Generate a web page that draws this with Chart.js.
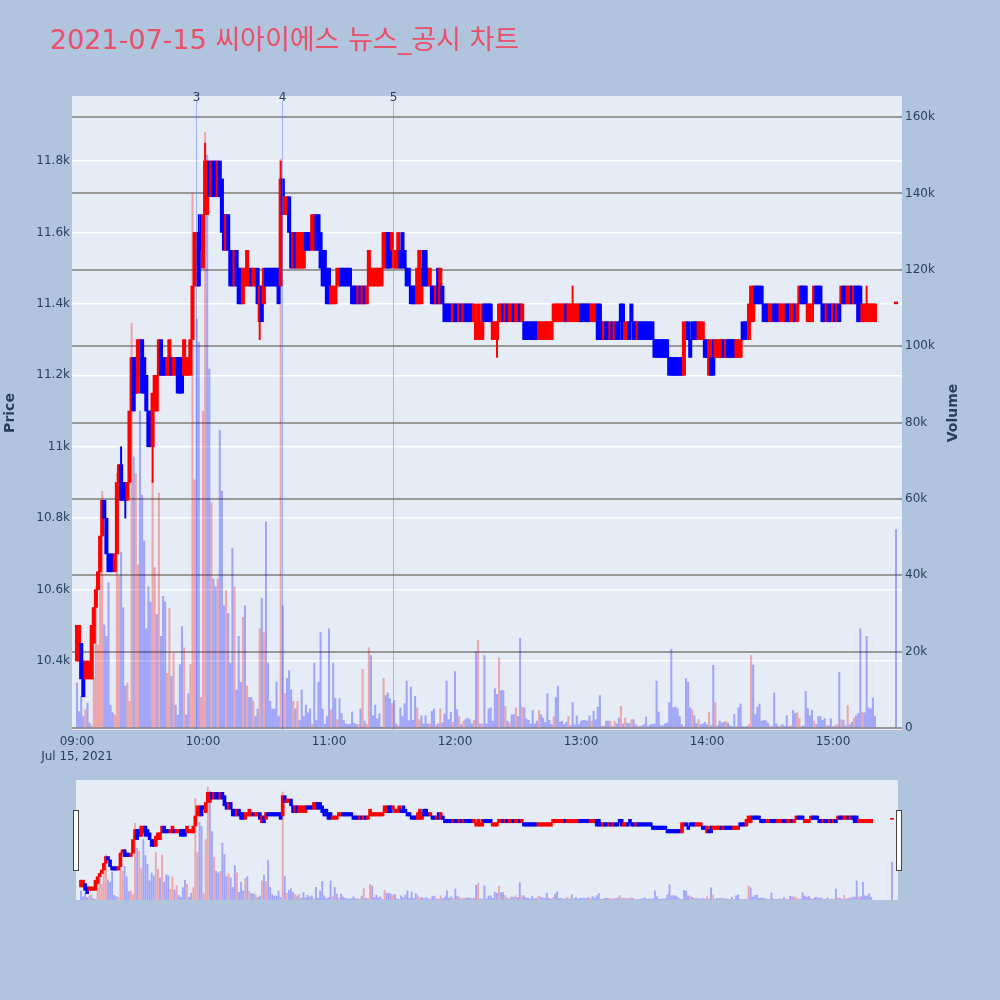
<!DOCTYPE html>
<html><head><meta charset="utf-8">
<script src="https://cdn.jsdelivr.net/npm/chart.js@4.4.0/dist/chart.umd.min.js"></script>
<style>
html,body{margin:0;padding:0;background:#b0c4de;width:1000px;height:1000px;overflow:hidden}
#title{position:absolute;left:50px;top:24px;line-height:32px;font-size:27px;font-family:"DejaVu Sans","Noto Sans CJK KR",sans-serif;color:#e9506a;white-space:nowrap}
#main{position:absolute;left:0;top:0}
#slider{position:absolute;left:76px;top:780px}
.handle{position:absolute;top:810px;width:4px;height:59px;background:#fff;border:1px solid #444}
</style></head><body>
<div id="title">2021-07-15 씨아이에스 뉴스_공시 차트</div>
<canvas id="main" width="1000" height="775"></canvas>
<canvas id="slider" width="822" height="120"></canvas>
<div class="handle" style="left:73px"></div>
<div class="handle" style="left:896px"></div>
<script>
// ---- data (one entry per minute from 09:00; null = no trade) ----
const sessionStart = '09:00';
const opens = [
10400,10400,10450,10400,10350,10350,10350,10350,10450,10550,
10600,10650,10750,10850,10800,10700,10700,10700,10650,10700,
10900,10950,10900,10900,10850,10900,11100,11250,11250,11150,
11200,11300,11250,11200,11100,11100,11000,11100,11100,11200,
11300,11250,11250,11200,11200,11250,11200,11200,11250,11250,
11250,11200,11200,11200,11200,11300,11450,11450,11600,11600,
11500,11650,11650,11800,11700,11800,11800,11700,11800,11750,
11650,11550,11650,11550,11550,11450,11550,11500,11500,11400,
11450,11450,11450,11500,11450,11450,11500,11350,11450,11400,
11500,11500,11500,11500,11500,11500,11500,11450,11750,11650,
11650,11700,11600,11500,11600,11500,11500,11500,11500,11600,
11600,11600,11550,11550,11650,11650,11600,11550,11550,11500,
11500,11400,11400,11400,11450,11450,11500,11500,11500,11500,
11500,11450,11450,11450,11400,11450,11400,11450,11400,11450,
11450,11450,11450,11450,11450,11450,11500,11500,11600,11600,
11550,11500,11500,11500,11550,11600,11550,11500,11500,11450,
11450,11450,11400,11400,11400,11550,11550,11500,11450,11450,
11450,11400,11500,11400,11450,11400,11400,11400,11400,11350,
11400,11400,11350,11400,11350,11400,11400,11400,11400,11350,
11300,11300,11300,11300,11400,11400,11400,11400,11300,11300,
11300,11350,11350,11400,11350,11400,11350,11350,11400,11350,
11350,11400,11350,11350,11350,11350,11350,11350,11350,11350,
11300,11300,11300,11300,11300,11300,11300,11350,11350,11350,
11350,11350,11350,11400,11350,11350,11350,11350,11350,11350,
11400,11400,11400,11400,11400,11350,11350,11350,11400,11400,
11350,11300,11350,11350,11300,11350,11300,11350,11350,11400,
11400,11300,11300,11350,11400,11350,11350,11300,11350,11350,
11350,11350,11350,11350,11350,11300,11300,11300,11300,11300,
11300,11300,11250,11250,11250,11250,11250,11250,11250,11200,
11300,11350,11300,11350,11350,11350,11300,11300,11300,11300,
11300,11200,11250,11300,11250,11250,11250,11250,11300,11250,
11300,11300,11300,11300,11250,11250,11250,11350,11350,11350,
11300,11350,11350,11450,11450,11450,11450,11400,11400,11400,
11350,11350,11400,11400,11400,11350,11350,11350,11400,11400,
11350,11350,11400,11350,11400,11450,11450,11450,11350,11350,
11350,11400,11450,11450,11450,11400,11400,11350,11400,11400,
11350,11400,11350,11400,11400,11450,11450,11400,11400,11450,
11400,11450,11450,11450,11350,11350,11350,11350,11350,11350,
11350,null,null,null,null,null,null,null,null,null,
11400];
const closes = [
10500,10500,10350,10300,10400,10400,10400,10500,10550,10600,
10650,10750,10850,10800,10700,10650,10650,10650,10700,10900,
10950,10850,10850,10850,10900,11100,11250,11100,11150,11300,
11300,11150,11150,11100,11000,11000,11150,11200,11200,11300,
11200,11200,11200,11250,11300,11200,11250,11250,11150,11150,
11150,11300,11250,11250,11300,11450,11600,11600,11450,11550,
11650,11800,11800,11700,11800,11700,11700,11800,11700,11600,
11550,11650,11550,11450,11450,11550,11450,11400,11400,11500,
11500,11550,11500,11450,11500,11500,11400,11450,11350,11500,
11450,11450,11450,11450,11450,11450,11400,11750,11650,11700,
11700,11600,11500,11600,11500,11600,11600,11600,11600,11550,
11550,11550,11650,11650,11550,11550,11500,11450,11450,11400,
11400,11450,11450,11450,11500,11500,11450,11450,11450,11450,
11450,11400,11400,11400,11450,11400,11450,11400,11450,11550,
11500,11500,11500,11500,11500,11500,11600,11600,11500,11500,
11600,11550,11550,11600,11500,11500,11500,11450,11450,11400,
11400,11400,11500,11550,11500,11450,11450,11450,11500,11400,
11400,11450,11400,11500,11400,11350,11350,11350,11350,11400,
11350,11350,11400,11350,11400,11350,11350,11350,11350,11400,
11350,11400,11350,11400,11350,11350,11350,11350,11350,11350,
11350,11400,11400,11350,11400,11350,11400,11400,11350,11400,
11400,11350,11400,11300,11300,11300,11300,11300,11300,11300,
11350,11350,11350,11350,11350,11350,11350,11400,11400,11400,
11400,11400,11400,11350,11400,11400,11400,11400,11400,11400,
11350,11350,11350,11350,11350,11400,11400,11400,11300,11300,
11300,11350,11300,11300,11350,11300,11350,11300,11300,11350,
11300,11350,11350,11300,11350,11300,11300,11350,11300,11300,
11300,11300,11300,11300,11300,11250,11250,11250,11250,11250,
11250,11250,11200,11200,11200,11200,11200,11200,11200,11350,
11350,11300,11250,11300,11300,11300,11350,11350,11350,11250,
11250,11300,11200,11200,11300,11300,11300,11300,11250,11300,
11250,11250,11250,11250,11300,11300,11300,11300,11300,11300,
11400,11450,11450,11400,11400,11400,11400,11350,11350,11350,
11400,11400,11350,11350,11350,11400,11400,11400,11350,11350,
11400,11400,11350,11400,11450,11400,11400,11400,11400,11400,
11400,11450,11400,11400,11400,11350,11350,11400,11350,11350,
11400,11350,11400,11350,11450,11400,11400,11450,11450,11400,
11450,11400,11350,11350,11400,11400,11400,11400,11400,11400,
11400,null,null,null,null,null,null,null,null,null,
11400];
const volumes = [
11800,4300,8300,3000,4800,6500,1300,600,13000,37000,
21700,41000,62000,27000,24000,38000,6000,4000,3400,66700,
39700,46000,31500,11000,11800,7000,106000,71000,66600,42700,
83000,61000,49000,26000,37000,33000,65000,42000,29700,61500,
24000,34500,33000,14300,31400,13500,19600,6000,3400,16600,
26600,21000,3400,9000,16600,140000,65000,107000,101000,8000,
83000,156000,150000,94000,59000,39000,37000,39000,78000,62000,
32000,36000,30000,17000,47000,37000,10000,24000,12000,29000,
32000,11000,8000,8000,7000,3000,5000,26000,34000,25000,
54000,17000,7000,5000,5000,12000,3000,149000,32000,9000,
13000,15000,10000,7000,5000,7000,2000,10000,3000,6000,
4000,5000,1000,17000,2000,12000,25000,5000,1000,3000,
26000,4800,17000,7700,2200,7700,3800,2000,1100,900,
1000,4200,1300,900,900,5000,15400,1800,1000,21000,
19000,3200,6000,2400,3800,200,13000,8500,9200,7700,
6400,7200,1100,600,5300,3000,6400,12300,1900,10700,
2000,8300,5300,2200,3200,1100,3200,1100,1100,4400,
5000,800,1100,5000,1400,3700,12300,2200,4100,1500,
14800,4800,3000,900,1800,2200,2600,2200,1100,2000,
20000,23000,1100,1100,19000,1100,5000,5300,1800,10300,
8800,18400,9800,9800,5700,1800,1300,3500,3500,5300,
3000,23500,5500,5300,2400,2000,1100,4600,1100,1800,
4600,3500,2600,1500,9000,2000,900,2900,8000,11000,
1500,1800,900,1500,3000,600,6600,900,3200,900,
1800,2000,2000,1800,3200,1800,4400,2200,5500,8500,
400,600,1800,1800,1800,400,1800,1100,2600,5700,
1100,2600,1300,1100,2200,2200,900,600,400,600,
900,2900,400,900,900,1100,12300,4200,600,600,
1100,1300,6600,20600,5300,5500,5000,3000,900,400,
12900,12000,5300,4800,3200,1300,2200,900,1100,1500,
900,4100,600,16400,6600,600,1800,1300,1500,1700,
1300,600,400,3500,400,5300,6300,400,300,400,
900,19000,16500,3500,5500,6300,1800,2000,1900,1300,
600,400,9200,1100,400,600,900,400,3200,400,
600,4600,3800,4000,2500,400,600,9600,5100,3200,
4600,1800,900,3000,3000,2000,2500,600,600,2400,
400,600,900,14600,2200,2000,600,5900,900,1500,
2600,3200,3800,26000,4100,4000,24000,5300,5000,7900,
3000,null,null,null,null,null,null,null,null,null,
52000];
// wicks: [minute index, low, high]
const wicks = [[21,10850,11000],[23,10800,10900],[36,10900,11150],[58,11450,11650],[59,11550,11650],
  [61,11650,11850],[87,11300,11450],[97,11450,11800],[200,11250,11350],[236,11350,11450],[376,11400,11450]];
const hourTicks = ['09:00','10:00','11:00','12:00','13:00','14:00','15:00'];
const dateLabel = 'Jul 15, 2021';
const priceTicks = [10400,10600,10800,11000,11200,11400,11600,11800];
const volumeTicks = [0,20000,40000,60000,80000,100000,120000,140000,160000];
const newsTimes = ['09:56:40','10:37:50','11:30:40'];
const newsLabels = ['3','4','5'];
const xRange = [-2.38, 392.86];
const priceRange = [10207, 11982];
const volumeRange = [-520, 165500];

// ---- helpers ----
function toMin(t){const p=t.split(':').map(Number);const s=sessionStart.split(':').map(Number);
  return (p[0]*60+p[1]+(p[2]||0)/60)-(s[0]*60+s[1]);}
function fmtMin(v){const s=sessionStart.split(':').map(Number);const t=s[0]*60+s[1]+v;
  const h=Math.floor(t/60),m=Math.round(t%60);return String(h).padStart(2,'0')+':'+String(m).padStart(2,'0');}

const RED='#ff0000', BLUE='#0000ff';
const candleData=[],candleColors=[],volData=[],volColors=[];
let prevClose=null;
for(let i=0;i<opens.length;i++){
  if(opens[i]==null) continue;
  candleData.push({x:i,y:[opens[i],closes[i]]});
  candleColors.push(closes[i]>=opens[i]?RED:BLUE);
  volData.push({x:i,y:volumes[i]});
  volColors.push(prevClose!==null && closes[i]>prevClose ? 'rgba(255,0,0,0.3)' : 'rgba(0,0,255,0.3)');
  prevClose=closes[i];
}
const wickData=wicks.map(w=>({x:w[0],y:[w[1],w[2]]}));
const wickColors=wicks.map(w=>closes[w[0]]>=opens[w[0]]?RED:BLUE);

const FONT='"DejaVu Sans", "Noto Sans CJK KR", sans-serif';
const TXT='#2a3f5f';

const bgPlugin={id:'bg',beforeDraw(c){const a=c.chartArea,ctx=c.ctx;ctx.save();ctx.fillStyle='#e5ecf6';
  ctx.fillRect(a.left,a.top,a.right-a.left,a.bottom-a.top);ctx.restore();}};
const newsPlugin={id:'news',afterDatasetsDraw(c){const ctx=c.ctx,a=c.chartArea,x=c.scales.x;ctx.save();
  newsTimes.forEach((t,i)=>{const px=Math.round(x.getPixelForValue(toMin(t)))+0.5;
    ctx.strokeStyle='rgba(80,110,255,0.45)';ctx.lineWidth=1;ctx.beginPath();ctx.moveTo(px,a.top+5);ctx.lineTo(px,a.bottom);ctx.stroke();
    ctx.fillStyle=TXT;ctx.font='12px '+FONT;ctx.textAlign='center';ctx.textBaseline='alphabetic';ctx.fillText(newsLabels[i],px,a.top+5);});
  ctx.restore();}};
const axisTitlePlugin={id:'axt',afterDraw(c){const ctx=c.ctx,a=c.chartArea;const cy=(a.top+a.bottom)/2;ctx.save();
  ctx.fillStyle=TXT;ctx.font='bold 14px '+FONT;ctx.textAlign='center';ctx.textBaseline='middle';
  ctx.translate(10,cy);ctx.rotate(-Math.PI/2);ctx.fillText('Price',0,0);ctx.restore();
  ctx.save();ctx.fillStyle=TXT;ctx.font='bold 14px '+FONT;ctx.textAlign='center';ctx.textBaseline='middle';
  ctx.translate(953,cy);ctx.rotate(-Math.PI/2);ctx.fillText('Volume',0,0);ctx.restore();}};

new Chart(document.getElementById('main'),{
  type:'bar',
  data:{datasets:[
    {data:candleData,backgroundColor:candleColors,barThickness:3.4,minBarLength:2,yAxisID:'y',grouped:false,order:0},
    {data:wickData,backgroundColor:wickColors,barThickness:1.3,yAxisID:'y',grouped:false,order:1},
    {data:volData,backgroundColor:volColors,barThickness:1.4,yAxisID:'y1',grouped:false,order:2}
  ]},
  options:{responsive:false,animation:false,
    layout:{padding:{top:96,left:0,right:0,bottom:0}},
    plugins:{legend:{display:false},tooltip:{enabled:false}},
    scales:{
      x:{type:'linear',min:xRange[0],max:xRange[1],offset:false,
        grid:{display:false,drawTicks:false},border:{display:false},
        afterBuildTicks:s=>{s.ticks=hourTicks.map(t=>({value:toMin(t)}));},
        afterFit:s=>{s.height=45;},
        ticks:{autoSkip:false,maxRotation:0,padding:4,color:TXT,font:{family:FONT,size:12,lineHeight:1.25},
          callback:(v,i)=> i===0?[fmtMin(v),dateLabel]:fmtMin(v)}},
      y:{position:'left',min:priceRange[0],max:priceRange[1],
        grid:{color:'#ffffff',lineWidth:1.5,drawTicks:false},border:{display:false},
        afterBuildTicks:s=>{s.ticks=priceTicks.map(v=>({value:v}));},
        afterFit:s=>{s.width=72;},
        ticks:{padding:2,color:TXT,font:{family:FONT,size:12},callback:v=>(v/1000).toFixed(1).replace(/\.0$/,'')+'k'}},
      y1:{position:'right',min:volumeRange[0],max:volumeRange[1],
        grid:{color:'#999999',lineWidth:2,drawTicks:false},border:{display:false},
        afterBuildTicks:s=>{s.ticks=volumeTicks.map(v=>({value:v}));},
        afterFit:s=>{s.width=98;},
        ticks:{padding:3,color:TXT,font:{family:FONT,size:12},callback:v=>v===0?'0':(v/1000)+'k'}}
    }},
  plugins:[bgPlugin,newsPlugin,axisTitlePlugin]
});

new Chart(document.getElementById('slider'),{
  type:'bar',
  data:{datasets:[
    {data:candleData,backgroundColor:candleColors,barThickness:3,minBarLength:1,yAxisID:'y',grouped:false,order:0},
    {data:volData,backgroundColor:volColors,barThickness:1.2,yAxisID:'y1',grouped:false,order:1}
  ]},
  options:{responsive:false,animation:false,layout:{padding:0},
    plugins:{legend:{display:false},tooltip:{enabled:false}},
    scales:{
      x:{type:'linear',display:false,min:xRange[0],max:xRange[1],offset:false},
      y:{display:false,min:priceRange[0],max:priceRange[1]},
      y1:{display:false,min:volumeRange[0],max:volumeRange[1]}
    }},
  plugins:[bgPlugin]
});
</script>
</body></html>
